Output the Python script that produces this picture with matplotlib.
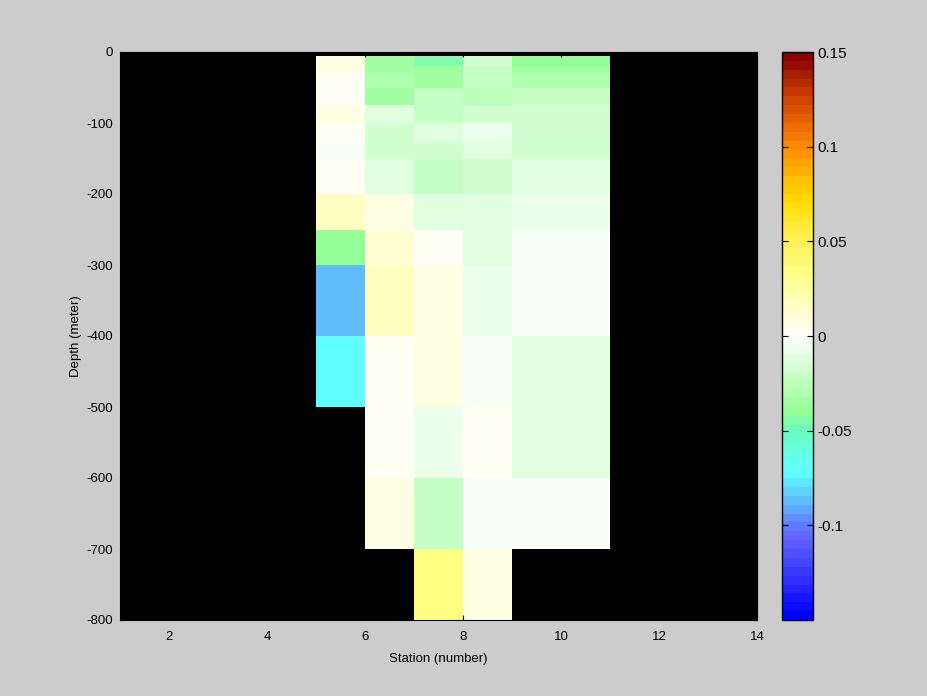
import numpy as np
import matplotlib
matplotlib.use("Agg")
import matplotlib.pyplot as plt
from matplotlib.colors import LinearSegmentedColormap, ListedColormap
from matplotlib.ticker import FuncFormatter

plt.rcParams['font.family'] = ['Liberation Sans', 'DejaVu Sans']
plt.rcParams['axes.unicode_minus'] = False

# cell edges
station_edges = [5, 6, 7, 8, 9, 11]
depth_edges = [-5, -20, -30, -50, -75, -100, -125, -150, -200, -250, -300, -400, -500, -600, -700, -800]

nan = np.nan
# one list per station column, top to bottom
st5 = [0.007, 0.007, 0.003, 0.003, 0.007, 0.003, -0.003, 0.003, 0.018, -0.040, -0.088, -0.074, nan, nan, nan]
st6 = [-0.035, -0.035, -0.029, -0.037, -0.011, -0.017, -0.017, -0.011, 0.006, 0.013, 0.017, 0.003, 0.003, 0.006, nan]
st7 = [-0.045, -0.037, -0.033, -0.022, -0.022, -0.011, -0.017, -0.022, -0.011, 0.003, 0.006, 0.006, -0.008, -0.022, 0.035]
st8 = [-0.017, -0.022, -0.022, -0.026, -0.017, -0.008, -0.011, -0.017, -0.011, -0.011, -0.008, -0.003, 0.003, -0.003, 0.007]
st9 = [-0.040, -0.033, -0.029, -0.022, -0.017, -0.017, -0.017, -0.011, -0.008, -0.003, -0.003, -0.011, -0.011, -0.003, nan]

C = np.ma.masked_invalid(np.array([st5, st6, st7, st8, st9]).T)

# colormap anchors (value, rgb)
anchors = [
    (-0.15, (0, 0, 255)), (-0.11, (96, 96, 255)), (-0.10, (96, 130, 255)),
    (-0.087, (96, 200, 255)), (-0.073, (96, 255, 255)), (-0.06, (100, 255, 220)),
    (-0.05, (110, 250, 190)), (-0.04, (150, 255, 150)), (0.0, (255, 255, 255)),
    (0.035, (255, 255, 130)), (0.05, (255, 240, 90)), (0.062, (255, 232, 45)),
    (0.072, (255, 220, 0)), (0.085, (255, 190, 0)), (0.10, (255, 145, 0)),
    (0.115, (235, 100, 0)), (0.13, (200, 60, 0)), (0.15, (139, 0, 0)),
]
base = LinearSegmentedColormap.from_list(
    'wj', [((v + 0.15) / 0.3, tuple(c / 255 for c in rgb)) for v, rgb in anchors])
cmap = ListedColormap(base(np.linspace(0, 1, 64)))

fig = plt.figure(figsize=(9.28, 6.96), dpi=100, facecolor=(0.8, 0.8, 0.8))
ax = fig.add_axes([120/928, 76/696, 637/928, 568/696])
ax.set_facecolor('black')
mesh = ax.pcolormesh(station_edges, depth_edges, C, cmap=cmap, vmin=-0.15, vmax=0.15)
ax.set_xlim(1, 14)
ax.set_ylim(-800, 0)
ax.set_xticks(range(2, 15, 2))
ax.set_yticks(range(-800, 1, 100))
ax.tick_params(direction='in', labelsize=9.5, top=True, right=True)
ax.tick_params(axis='x', pad=8)
ax.tick_params(axis='y', pad=5)
ax.set_xlabel('Station (number)', fontsize=9.5, labelpad=7)
ax.set_ylabel('Depth (meter)', fontsize=9.5, labelpad=3)

cax = fig.add_axes([782/928, 76/696, 31/928, 568/696])
cb = fig.colorbar(mesh, cax=cax)
cb.set_ticks([-0.1, -0.05, 0, 0.05, 0.1, 0.15])
cb.ax.yaxis.set_major_formatter(FuncFormatter(lambda v, p: '%g' % round(v, 3)))
cb.ax.tick_params(direction='in', labelsize=11, left=True, right=True, length=4, pad=3)
cb.outline.set_linewidth(1)

fig.savefig('out.png', dpi=100, facecolor=fig.get_facecolor())
